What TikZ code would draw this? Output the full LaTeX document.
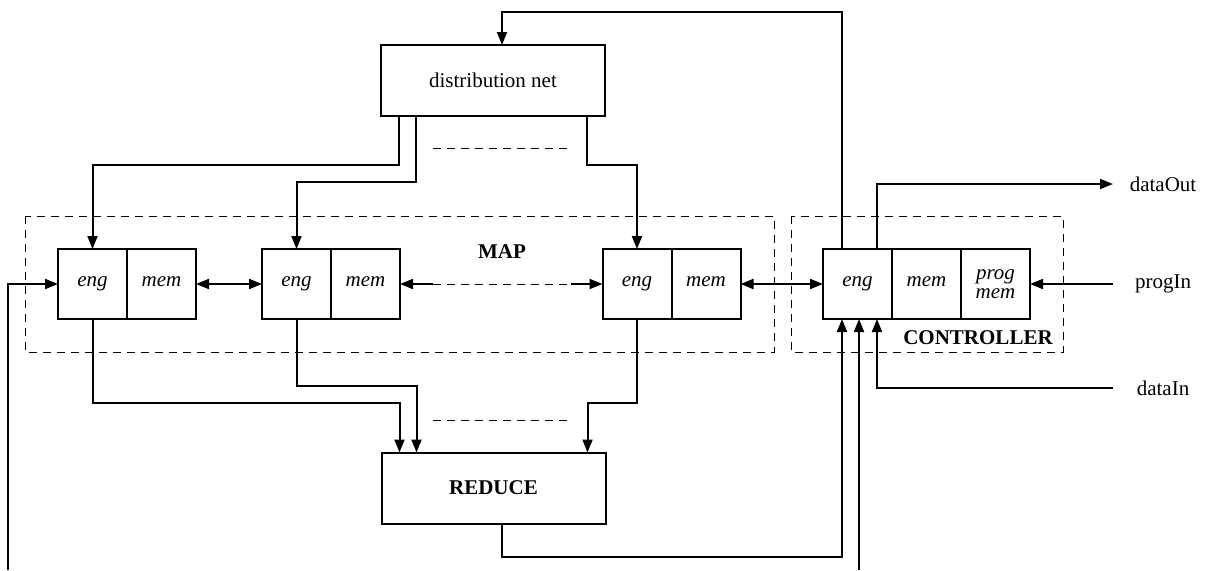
\documentclass[tikz,border=0pt]{standalone}
\usepackage{fontspec}
\setmainfont{Liberation Serif}
\usetikzlibrary{positioning,arrows.meta}

\begin{document}
\begin{tikzpicture}[x=0.5pt,y=-0.5pt,font=\fontsize{10.5}{12}\selectfont,line width=1pt,>={Triangle[length=6.5pt,width=5pt]}]
\tikzstyle{cell}=[draw,minimum width=34.5pt,minimum height=35pt,inner sep=0,outer sep=0,font=\fontsize{10.5}{9.5}\selectfont\itshape,align=center]
\tikzstyle{unit}=[draw,minimum width=112pt,minimum height=35.5pt,inner sep=0,outer sep=0]
\tikzstyle{group}=[line width=0.5pt,dash pattern=on 4pt off 3pt]
\useasboundingbox (0,0) rectangle (1206,570);
% dashed groups
\draw[group] (25,216) rectangle (774,352);
\draw[group] (791,216) rectangle (1063,352);
% blocks
\node[unit](dist) at (493,80.5){distribution net};
\node[unit,font=\fontsize{10.5}{12}\selectfont\bfseries](red) at (493.5,488){REDUCE};
\node[cell](e1) at (92.5,284){eng\vphantom{p}};
\node[cell,right=0pt of e1](m1){mem\vphantom{p}};
\node[cell](e2) at (296.5,284){eng\vphantom{p}};
\node[cell,right=0pt of e2](m2){mem\vphantom{p}};
\node[cell](e3) at (637,284){eng\vphantom{p}};
\node[cell,right=0pt of e3](m3){mem\vphantom{p}};
\node[cell](ce) at (857.5,284){eng\vphantom{p}};
\node[cell,right=0pt of ce](cm){mem\vphantom{p}};
\node[cell,right=0pt of cm](cp){prog\\mem};
\node[font=\fontsize{10.5}{12}\selectfont\bfseries](maplbl) at (502,252){MAP};
\node[font=\fontsize{10.5}{12}\selectfont\bfseries](ctrllbl) at (978,338){CONTROLLER};
% outside
\node(dout) at (1163,184){dataOut};
\node(pin) at (1163,284){progIn};
\node(din) at (1163,388){dataIn};
\coordinate(doutend) at (1113,184);
\coordinate(pinend) at (1113,284);
\coordinate(dinend) at (1113,388);
\coordinate(lin) at (8,570);
\coordinate(bin) at (859,570);
% distribution net to map
\draw[->] ([xshift=-47pt]dist.south) -- ++(0,49) -| (e1.north);
\draw[->] ([xshift=-38.5pt]dist.south) -- ++(0,66) -| (e2.north);
\draw[->] ([xshift=47pt]dist.south) -- ++(0,49) -| (e3.north);
\draw[group] (433,148) -- (570,148);
% map chain
\draw[<->] (m1.east) -- (e2.west);
\draw[<-] (m2.east) -- ++(33,0);
\draw[group] ([xshift=16.5pt]m2.east) -- ([xshift=-16pt]e3.west);
\draw[->] ([xshift=-16pt]e3.west) -- (e3.west);
\draw[<->] (m3.east) -- (ce.west);
\draw[<-] (cp.east) -- (pinend);
\draw[->] (lin) |- (e1.west);
% map to reduce
\draw[->] (e1.south) -- ++(0,84) -| ([xshift=-47pt]red.north);
\draw[->] (e2.south) -- ++(0,67) -| ([xshift=-38.5pt]red.north);
\draw[->] (e3.south) -- ++(0,84) -| ([xshift=47pt]red.north);
\draw[group] (433,420) -- (570,420);
% controller
\draw[->] ([xshift=4.25pt]red.south) -- ++(0,33) -| ([xshift=-7.75pt]ce.south);
\draw[->] (bin) -- (bin |- ce.south);
\draw[->] (dinend) -| ([xshift=9.75pt]ce.south);
\draw[->] ([xshift=9.75pt]ce.north) |- (doutend);
\draw[->] ([xshift=-7.75pt]ce.north) -- ++(0,-237) -| ([xshift=4.5pt]dist.north);
\end{tikzpicture}
\end{document}
